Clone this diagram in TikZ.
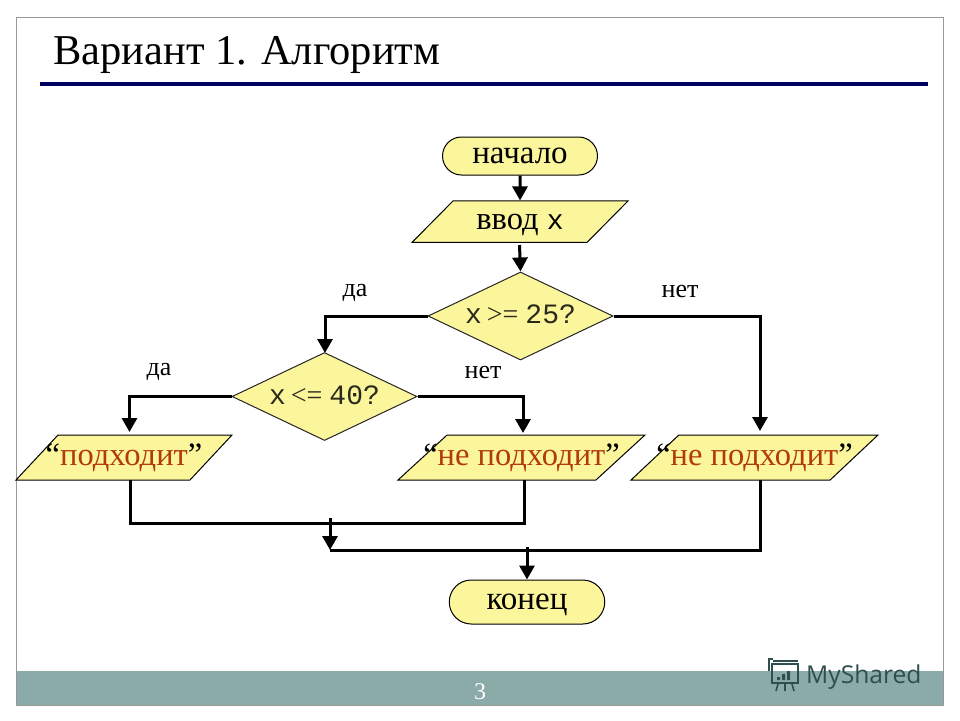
\documentclass[tikz,border=0pt]{standalone}
\usepackage{fontspec}
\setmainfont{Liberation Serif}
\newfontfamily\monof{Liberation Mono}
\newfontfamily\wmf{Open Sans}
\usetikzlibrary{arrows.meta,shapes.geometric,shapes.misc}
\definecolor{fillY}{HTML}{FBF59B}
\definecolor{navyL}{HTML}{000060}
\definecolor{foot}{HTML}{8AABA8}
\definecolor{redT}{HTML}{B23A0E}
\definecolor{wm}{HTML}{2F4F4F}
\definecolor{decT}{HTML}{2A2A1A}
\tikzset{
  x=1pt,y=-1pt,
  term/.style={rounded rectangle,draw=black,fill=fillY,line width=1pt,minimum width=155pt,inner sep=0pt,text height=15pt,text depth=0pt,font=\fontsize{33}{36}\selectfont},
  para/.style={trapezium,trapezium left angle=#1,trapezium right angle=180-#1,trapezium stretches body=true,draw=black,fill=fillY,line width=1pt,inner sep=0pt,text height=15pt,text depth=0pt,minimum height=45pt,font=\fontsize{32.5}{36}\selectfont},
  dec/.style={diamond,aspect=2.1,draw=black!85,fill=fillY,text=decT,line width=1pt,inner sep=0pt,text height=15pt,text depth=0pt,minimum width=185pt,minimum height=88pt,font=\fontsize{28}{30}\selectfont},
  lab/.style={font=\fontsize{26}{28}\selectfont,inner sep=0pt,text height=12pt,text depth=0pt},
  flow/.style={line width=3pt,-{Triangle[length=14pt,width=15pt]}},
  seg/.style={line width=3pt,line join=miter}
}
\newcommand{\qm}[1]{\makebox[0pt]{\textcolor{black}{“}\textcolor{redT}{#1}\textcolor{black}{”}}}
\begin{document}
\begin{tikzpicture}
\useasboundingbox (0,0) rectangle (960,720);
\fill[white] (0,0) rectangle (960,720);
% slide frame and footer
\fill[foot] (16.5,671) rectangle (943,705);
\draw[gray!80,line width=1pt] (16.5,17) rectangle (943,705);
\fill[navyL] (40,82) rectangle (928,86);
\node[anchor=base west,inner sep=0pt,font=\fontsize{42.5}{46}\selectfont] (title) at (53,64) {Вариант 1. Алгоритм};
\node[text=white,inner sep=0pt,font=\fontsize{24}{26}\selectfont] (num) at (480,692) {3};
% watermark
\node[anchor=base west,inner sep=0pt,text=wm,font=\wmf\fontsize{24.6}{28}\selectfont] (wmark) at (806,683) {MyShared};
\begin{scope}[wm,line width=1.6pt]
\draw (773,661) -- (798,661) (772,664) rectangle (798,683);
\draw (769,671) -- (769,659) -- (773,659);
\fill (777,680) rectangle (780,677) (782,680) rectangle (785,674) (787,680) rectangle (790,671);
\draw (778,684) -- (776,691) (785,684) -- (785,691) (792,684) -- (794,691);
\end{scope}
% nodes
\node[term,minimum height=38pt] (start) at (520,156) {начало};
\node[para=20.1,minimum width=216pt,minimum height=41.5pt] (input) at (520,221.7) {ввод {\monof\fontsize{28}{30}\selectfont x}};
\node[dec] (d1) at (520.5,316) {{\monof x} \kern-2pt>= {\monof 25?}};
\node[dec] (d2) at (324.5,396.5) {{\monof x} \kern-2pt<= {\monof 40?}};
\node[para=19.65,minimum width=216pt] (yes) at (124,457.5) {\qm{подходит}};
\node[para=17,minimum width=247pt] (no1) at (521.5,457.5) {\qm{не подходит}};
\node[para=17.4,minimum width=247pt] (no2) at (754.5,457.5) {\qm{не подходит}};
\node[term,minimum width=155.5pt,minimum height=44pt] (stop) at (527,602) {конец};
% labels
\node[lab] (l1) at (355,290) {да};
\node[lab] (l2) at (680,291) {нет};
\node[lab] (l3) at (159,369) {да};
\node[lab] (l4) at (483,372) {нет};
% junctions
\coordinate (tA) at (760,431);
\coordinate (tB) at (129.5,432);
\coordinate (tC) at (523,433);
\coordinate (tD) at (325,353);
\coordinate (yb) at (130,480);
\coordinate (n1b) at (524.5,480);
\coordinate (n2b) at (760,480);
\coordinate (j1) at (330,518);
\coordinate (j2) at (330,550);
\coordinate (j3) at (527,547);
% connectors
\draw[flow] (start.south) -- (input.north);
\draw[flow] (519.5,245) -- (d1.north);
\draw[flow] (d1.west) -| (tD);
\draw[flow] (d1.east) -| (tA);
\draw[flow] (d2.west) -| (tB);
\draw[flow] (d2.east) -| (tC);
\draw[seg] (yb) |- (330,523) -| (n1b);
\draw[flow] (j1) -- (j2);
\draw[seg] (n2b) |- (j2);
\draw[flow] (j3) -- (stop.north);
\end{tikzpicture}
\end{document}
